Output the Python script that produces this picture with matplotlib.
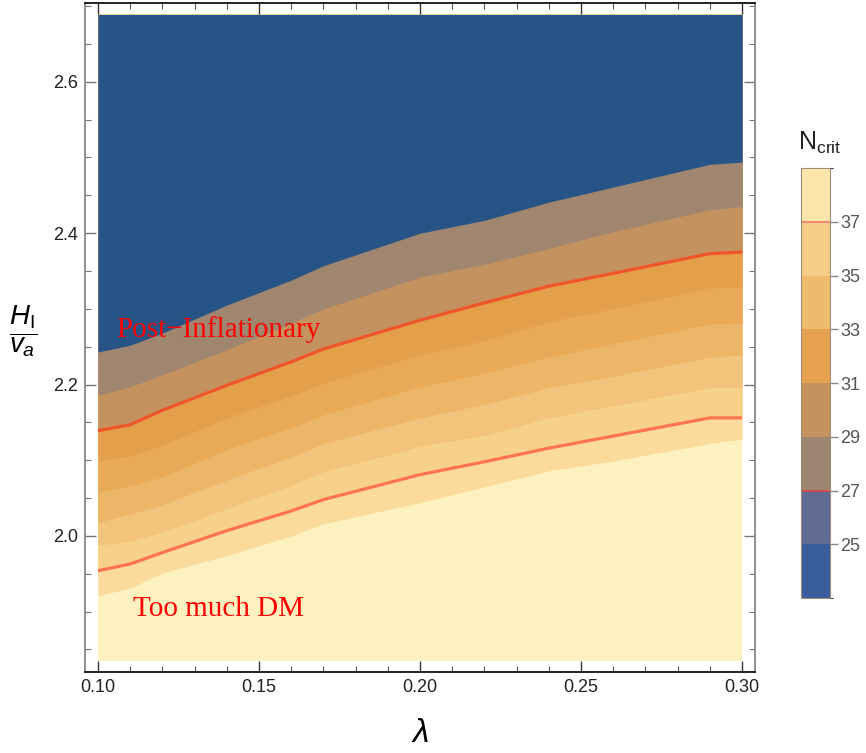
import numpy as np
import matplotlib
matplotlib.use('Agg')
from matplotlib import pyplot as plt
from matplotlib.colors import ListedColormap, BoundaryNorm
from matplotlib.ticker import MultipleLocator
import matplotlib.colorbar as mcolorbar

plt.rcParams['font.family'] = ['Liberation Sans', 'DejaVu Sans']
plt.rcParams['mathtext.fontset'] = 'custom'
plt.rcParams['mathtext.rm'] = 'Liberation Sans'
plt.rcParams['mathtext.it'] = 'Liberation Sans:italic'

########################################  CONTOUR DATA  ########################################
# H_I/v_a position of each N_crit contour, sampled along lambda
lam = [0.10, 0.11, 0.12, 0.14, 0.16, 0.17, 0.20, 0.22, 0.24, 0.26, 0.29, 0.30]
n23 = [2.243, 2.252, 2.268, 2.305, 2.338, 2.357, 2.400, 2.417, 2.441, 2.461, 2.491, 2.494]
n25 = [2.186, 2.197, 2.213, 2.246, 2.281, 2.300, 2.342, 2.359, 2.380, 2.402, 2.431, 2.435]
n27 = [2.139, 2.147, 2.166, 2.199, 2.230, 2.247, 2.285, 2.308, 2.330, 2.347, 2.373, 2.375]
n29 = [2.099, 2.106, 2.120, 2.156, 2.185, 2.202, 2.239, 2.258, 2.283, 2.300, 2.328, 2.329]
n31 = [2.058, 2.066, 2.078, 2.114, 2.143, 2.160, 2.197, 2.215, 2.236, 2.254, 2.280, 2.281]
n33 = [2.018, 2.029, 2.041, 2.074, 2.104, 2.122, 2.156, 2.174, 2.196, 2.211, 2.236, 2.239]
n35 = [1.988, 1.993, 2.005, 2.036, 2.067, 2.085, 2.118, 2.133, 2.156, 2.172, 2.196, 2.197]
n37 = [1.954, 1.963, 1.978, 2.007, 2.033, 2.048, 2.081, 2.098, 2.116, 2.132, 2.156, 2.156]
n39 = [1.921, 1.931, 1.951, 1.974, 2.000, 2.016, 2.044, 2.065, 2.086, 2.099, 2.122, 2.128]

# sampled domain
lam_min, lam_max = 0.10, 0.30
h_min, h_max = 1.835, 2.689

# fill colours, from the highest N_crit band upwards
fill_low = '#FEF1C0'
band_colors = ['#FBDB9B', '#F7D08A', '#F2C37B', '#EDB567', '#E9AA58',
               '#E49F4A', '#C4925F', '#A0856F', '#265486']

# legend bar
cb_levels = [23, 25, 27, 29, 31, 33, 35, 37, 39]
cb_colors = ['#3A5E9D', '#5F6B93', '#9E8571', '#C5925E',
             '#E6A24F', '#EEBA6C', '#F6CC87', '#FDE6A9']
cb_ticks = [25, 27, 29, 31, 33, 35, 37]

########################################  PLOT  ########################################

fig = plt.figure(figsize=(8.66, 7.53), dpi=100)
ax = fig.add_axes([0.0982, 0.1076, 0.7736, 0.8884])

x = np.array(lam)
ax.fill_between([lam_min, lam_max], h_min, h_max, color=fill_low, lw=0)
contours = [n39, n37, n35, n33, n31, n29, n27, n25, n23]
for c, col in zip(contours, band_colors):
    ax.fill_between(x, c, h_max, color=col, lw=0)

ax.plot(x, n37, color='#FF7352', lw=2.3, solid_capstyle='butt')
ax.plot(x, n27, color='#F0552A', lw=2.3, solid_capstyle='butt')

serif = ['Liberation Serif', 'DejaVu Serif']
ax.text(0.1375, 2.263, 'Post\u2212Inflationary', color='red', fontsize=21,
        family=serif, ha='center', va='baseline')
ax.text(0.1375, 1.894, 'Too much DM', color='red', fontsize=21,
        family=serif, ha='center', va='baseline')

ax.set_xlim(0.096, 0.304)
ax.set_ylim(1.8203, 2.7041)
ax.xaxis.set_major_locator(MultipleLocator(0.05))
ax.xaxis.set_minor_locator(MultipleLocator(0.01))
ax.yaxis.set_major_locator(MultipleLocator(0.2))
ax.yaxis.set_minor_locator(MultipleLocator(0.05))
ax.xaxis.set_major_formatter(plt.FuncFormatter(lambda v, p: f'{v:.2f}'))
ax.yaxis.set_major_formatter(plt.FuncFormatter(lambda v, p: f'{v:.1f}'))
ax.tick_params(which='both', direction='in', top=True, right=True,
               labelsize=13, labelcolor='#222222', pad=5)
ax.tick_params(which='major', length=8, width=1.0, color='#333333')
ax.tick_params(which='minor', length=4.5, width=0.8, color='#555555')
ax.tick_params(axis='y', which='both', color='#777777')
for side in ['top', 'bottom']:
    ax.spines[side].set_color('#111111')
    ax.spines[side].set_linewidth(1.3)
for side in ['left', 'right']:
    ax.spines[side].set_color('#888888')
    ax.spines[side].set_linewidth(1.3)

ax.set_xlabel(r'$\lambda$', fontsize=24, labelpad=16)
ax.set_ylabel(r'$\dfrac{H_\mathrm{I}}{v_a}$', fontsize=20, rotation=0,
              va='center')
ax.yaxis.set_label_coords(-0.092, 0.51)

# colour legend
cax = fig.add_axes([0.925, 0.2058, 0.0335, 0.571])
cmap = ListedColormap(cb_colors)
norm = BoundaryNorm(cb_levels, cmap.N)
cb = mcolorbar.ColorbarBase(cax, cmap=cmap, norm=norm, ticks=cb_ticks,
                            orientation='vertical')
cb.outline.set_edgecolor('#9A8F7A')
cb.outline.set_linewidth(0.8)
cax.axhline(27, color='#D9453F', lw=1.2)
cax.axhline(37, color='#F47A6A', lw=1.2)
cax.tick_params(length=5.5, width=1.0, color='#888888', labelsize=13,
                labelcolor='#555555', pad=2)
fig.text(0.947, 0.81, r'$\mathrm{N_{crit}}$', fontsize=18, ha='center',
         va='center', color='#222222')

fig.savefig('out.png', dpi=100)
